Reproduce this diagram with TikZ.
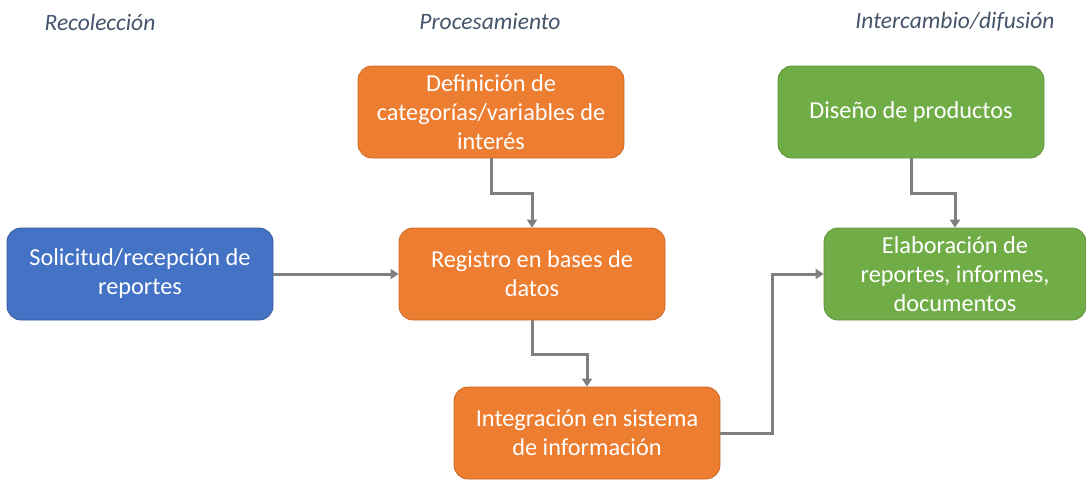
\documentclass[tikz,border=0pt]{standalone}
\usepackage{fontspec}
\setmainfont{Carlito}
\usetikzlibrary{arrows.meta}

\definecolor{azul}{HTML}{4472C4}
\definecolor{naranja}{HTML}{ED7D31}
\definecolor{verde}{HTML}{70AD47}
\definecolor{flecha}{HTML}{7F7F7F}
\definecolor{titulo}{HTML}{44546A}

\begin{document}
\begin{tikzpicture}[x=1pt, y=-1pt,
    caja/.style={rectangle, rounded corners=14pt, minimum width=266pt, minimum height=92pt,
        text=white, align=center, inner sep=0pt, line width=0.8pt,
        font=\fontsize{24.3}{29}\selectfont},
    etapa/.style={text=titulo, font=\fontsize{23.5}{28}\selectfont\itshape},
    conector/.style={draw=flecha, line width=3pt, -{Triangle[length=8pt, width=10pt]}}]
        \useasboundingbox (0,0) rectangle (1086,479);

        \node[etapa] (t1) at (100,22) {Recolección};
        \node[etapa] (t2) at (490,22) {Procesamiento};
        \node[etapa] (t3) at (955,22) {Intercambio/difusión};

        \node[caja, fill=azul, draw=azul!80!black] (sol) at (140,274) {Solicitud/recepción de\\reportes};
        \node[caja, fill=naranja, draw=naranja!85!black] (def) at (491,112) {Definición de\\categorías/variables de\\interés};
        \node[caja, fill=naranja, draw=naranja!85!black] (reg) at (532,274) {Registro en bases de\\datos};
        \node[caja, fill=naranja, draw=naranja!85!black] (int) at (587,433) {Integración en sistema\\de información};
        \node[caja, fill=verde, draw=verde!85!black] (dis) at (911,112) {Diseño de productos};
        \node[caja, fill=verde, draw=verde!85!black, minimum width=262pt] (ela) at (955,274) {Elaboración de\\reportes, informes,\\documentos};

        \draw[conector] (sol) -- (reg);
        \draw[conector] (def.south) -- ++(0,35) -| (reg.north);
        \draw[conector] (reg.south) -- ++(0,34) -| (int.north);
        \draw[conector] (int.east) -- ++(52,0) |- (ela.west);
        \draw[conector] (dis.south) -- ++(0,35) -| (ela.north);
\end{tikzpicture}
\end{document}
